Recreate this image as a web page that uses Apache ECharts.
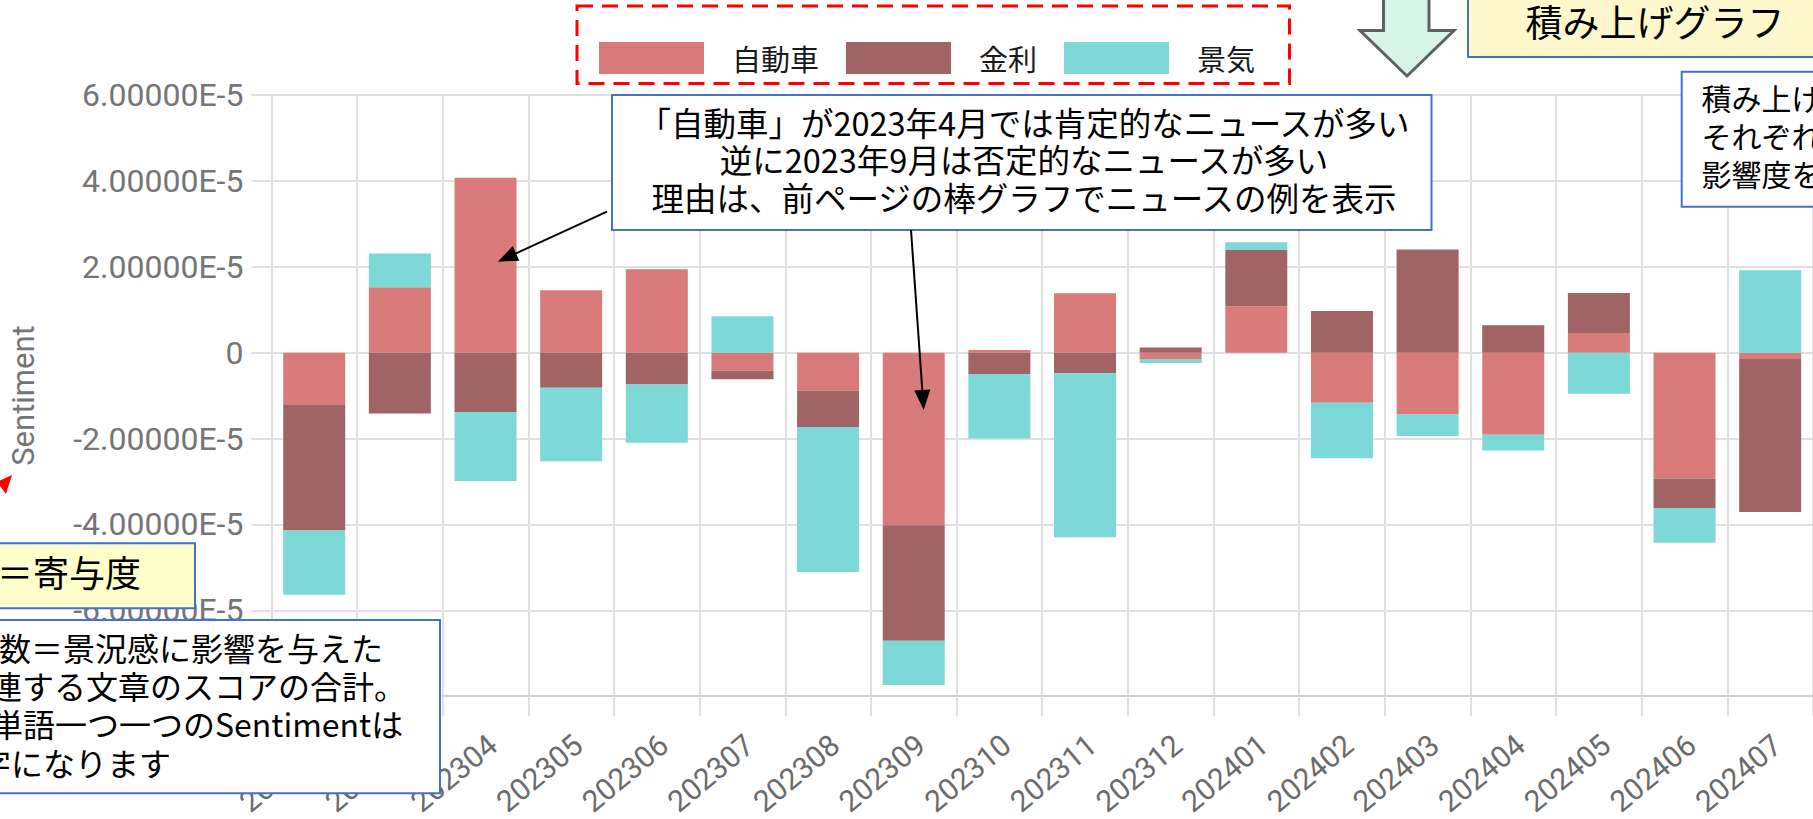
<!DOCTYPE html>
<html>
<head>
<meta charset="utf-8">
<script src="https://cdn.jsdelivr.net/npm/echarts@6/dist/echarts.min.js"></script>
<style>
html,body{margin:0;padding:0;background:#fff;overflow:hidden;}
#chart{width:1813px;height:819px;}
</style>
</head>
<body>
<div id="chart"></div>
<script>
// ---- data ----
const categories = ['202302','202303','202304','202305','202306','202307','202308','202309','202310','202311','202312','202401','202402','202403','202404','202405','202406','202407'];
const seriesNames = ['自動車', '金利', '景気'];
const autoValues = [-1.22e-5, 1.52e-5, 4.07e-5, 1.45e-5, 1.94e-5, -0.42e-5, -0.88e-5, -4.02e-5, 0.06e-5, 1.38e-5, -0.15e-5, 1.08e-5, -1.17e-5, -1.44e-5, -1.91e-5, 0.46e-5, -2.93e-5, -0.15e-5];
const rateValues = [-2.92e-5, -1.42e-5, -1.38e-5, -0.82e-5, -0.74e-5, -0.20e-5, -0.85e-5, -2.69e-5, -0.50e-5, -0.48e-5, 0.12e-5, 1.31e-5, 0.97e-5, 2.40e-5, 0.64e-5, 0.93e-5, -0.69e-5, -3.56e-5];
const econValues = [-1.50e-5, 0.79e-5, -1.61e-5, -1.71e-5, -1.36e-5, 0.85e-5, -3.38e-5, -1.03e-5, -1.50e-5, -3.82e-5, -0.09e-5, 0.18e-5, -1.29e-5, -0.50e-5, -0.37e-5, -0.96e-5, -0.81e-5, 1.92e-5];
const yMin = -8e-5, yMax = 6e-5, yInterval = 2e-5;
const yAxisName = 'Sentiment';

// annotation texts
const boxMainLines = ['「自動車」が2023年4月では肯定的なニュースが多い', '逆に2023年9月は否定的なニュースが多い', '理由は、前ページの棒グラフでニュースの例を表示'];
const boxLeftLines = ['数＝景況感に影響を与えた', '連する文章のスコアの合計。', '単語一つ一つのSentimentは', '字になります'];
const boxRightLines = ['積み上げ', 'それぞれ', '影響度を'];
const titleBoxText = '積み上げグラフ';
const kiyoText = '＝寄与度';

const colors = ['#d97b7b', '#a06464', '#7dd8d8'];
const JP = '"Noto Sans CJK JP", "Noto Sans", sans-serif';
const GRID = '#e0e0e0';

function fmt(v) {
  if (Math.abs(v) < 1e-12) return '0';
  return v.toExponential(5).toUpperCase();
}

function txt(text, x, y, size, align, color) {
  return {
    type: 'text', z: 120,
    style: {
      text: text, x: x, y: y,
      font: size + 'px ' + JP,
      fill: color || '#000',
      align: align, textAlign: align,
      verticalAlign: 'middle', textVerticalAlign: 'middle'
    }
  };
}
function arrow(x1, y1, x2, y2) {
  const dx = x2 - x1, dy = y2 - y1, len = Math.sqrt(dx * dx + dy * dy);
  const ux = dx / len, uy = dy / len, L = 20, W = 8;
  const bx = x2 - ux * L, by = y2 - uy * L;
  return [
    { type: 'line', z: 120, shape: { x1: x1, y1: y1, x2: bx, y2: by }, style: { stroke: '#000', lineWidth: 2 } },
    { type: 'polygon', z: 120, shape: { points: [[x2, y2], [bx - uy * W, by + ux * W], [bx + uy * W, by - ux * W]] }, style: { fill: '#000' } }
  ];
}

const graphics = [];
// red dashed frame around legend
graphics.push({ type: 'rect', z: 110, shape: { x: 577, y: 6, width: 712.5, height: 77.5 }, style: { fill: 'none', stroke: '#ff0000', lineWidth: 3, lineDash: [16, 9] } });
// main comment box
graphics.push({ type: 'rect', z: 110, shape: { x: 612, y: 95, width: 819.5, height: 135 }, style: { fill: '#ffffff', stroke: '#4472c4', lineWidth: 2 } });
[121, 158.5, 196.5].forEach((y, i) => graphics.push(txt(boxMainLines[i], 1024, y, 32.5, 'center')));
arrow(607, 211.7, 497.8, 261.7).forEach(g => graphics.push(g));
arrow(911, 230, 923.7, 410).forEach(g => graphics.push(g));
// block arrow
graphics.push({ type: 'polygon', z: 110, shape: { points: [[1383.5, -5], [1383.5, 30.5], [1360, 30.5], [1407, 76], [1454, 30.5], [1429, 30.5], [1429, -5]] }, style: { fill: '#d5f5e8', stroke: '#606060', lineWidth: 3 } });
// title box
graphics.push({ type: 'rect', z: 110, shape: { x: 1468, y: -10, width: 420, height: 67 }, style: { fill: '#fff8cc', stroke: '#4472c4', lineWidth: 2 } });
graphics.push(txt(titleBoxText, 1655, 21, 37, 'center'));
// right box
graphics.push({ type: 'rect', z: 110, shape: { x: 1681.7, y: 71.7, width: 200, height: 135 }, style: { fill: '#ffffff', stroke: '#4472c4', lineWidth: 2 } });
[97, 135, 173].forEach((y, i) => graphics.push(txt(boxRightLines[i], 1701.5, y, 30, 'left')));
// kiyo box
graphics.push({ type: 'rect', z: 110, shape: { x: -10, y: 543.3, width: 205, height: 65 }, style: { fill: '#ffffcc', stroke: '#4472c4', lineWidth: 2 } });
graphics.push(txt(kiyoText, -3, 571, 36, 'left'));
// bottom-left box
graphics.push({ type: 'rect', z: 110, shape: { x: -10, y: 620, width: 450, height: 173.3 }, style: { fill: '#ffffff', stroke: '#4472c4', lineWidth: 2 } });
[[-1, 646.7], [-10, 685], [-9, 723.3], [-21, 761.7]].forEach((p, i) => graphics.push(txt(boxLeftLines[i], p[0], p[1], 32, 'left')));
// red arrow head
graphics.push({ type: 'polygon', z: 110, shape: { points: [[12, 475], [-3, 482], [6, 494]] }, style: { fill: '#ff0000' } });

const valueLists = [autoValues, rateValues, econValues];
const series = seriesNames.map((name, i) => ({
  name: name, type: 'bar', stack: 'total', barWidth: 62,
  itemStyle: { color: colors[i] },
  data: valueLists[i]
}));

const chart = echarts.init(document.getElementById('chart'), null, { renderer: 'svg' });
chart.setOption({
  animation: false,
  backgroundColor: '#ffffff',
  legend: {
    left: 594, top: 37,
    itemWidth: 105, itemHeight: 32, itemGap: 27,
    icon: 'rect',
    textStyle: { fontSize: 29, color: '#1a1a1a', fontFamily: JP, padding: [0, 0, 0, 23] },
    data: seriesNames
  },
  grid: { left: 271.4, top: 95, width: 1560.6, bottom: 117, containLabel: false },
  xAxis: {
    type: 'category', data: categories, boundaryGap: true,
    axisLine: { onZero: false, lineStyle: { color: '#cfcfcf', width: 2 } },
    axisTick: { show: true, length: 20, interval: 0, lineStyle: { color: GRID, width: 2 } },
    splitLine: { show: true, interval: 0, lineStyle: { color: GRID, width: 2 } },
    axisLabel: { interval: 0, rotate: 40, margin: 36, verticalAlign: 'top', lineHeight: 22, fontSize: 30, color: '#6b6b6b', fontFamily: 'Roboto' }
  },
  yAxis: {
    type: 'value', min: yMin, max: yMax, interval: yInterval,
    name: yAxisName, nameLocation: 'middle', nameRotate: 90, nameGap: 232,
    nameTextStyle: { fontSize: 31, color: '#757575', fontFamily: 'Roboto' },
    axisLine: { show: true, lineStyle: { color: GRID, width: 2 } },
    axisTick: { show: true, length: 20, lineStyle: { color: GRID, width: 2 } },
    splitLine: { show: true, lineStyle: { color: GRID, width: 2 } },
    axisLabel: { margin: 28, fontSize: 32, color: '#757575', fontFamily: 'Roboto', formatter: fmt }
  },
  series: series,
  graphic: { elements: graphics }
});
</script>
</body>
</html>
